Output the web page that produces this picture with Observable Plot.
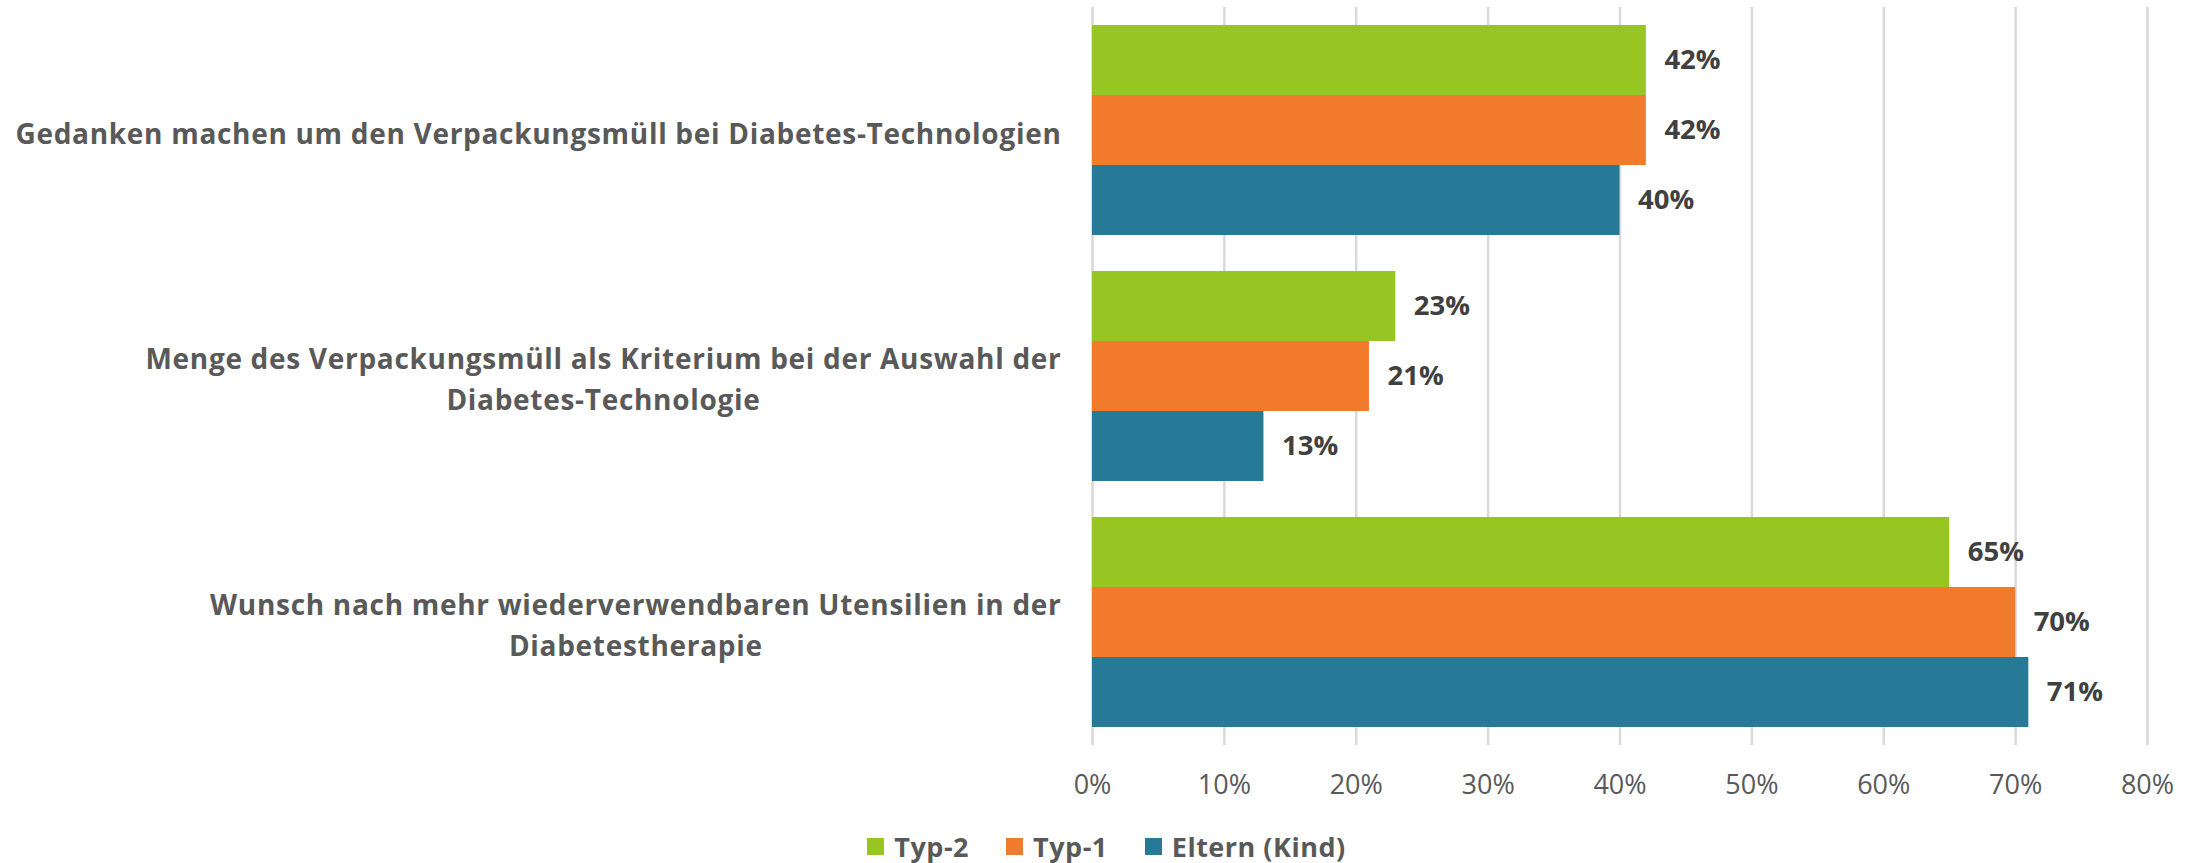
<!DOCTYPE html>
<html>
<head>
<meta charset="utf-8">
<script src="https://cdn.jsdelivr.net/npm/d3@7"></script>
<script src="https://cdn.jsdelivr.net/npm/@observablehq/plot@0.6"></script>
<style>
  html, body { margin: 0; padding: 0; background: #fff; }
  body { width: 2203px; font-family: "Open Sans", "Liberation Sans", sans-serif; }
  #chart svg { display: block; }
  g[aria-label="fy-axis tick label"] { letter-spacing: 0.7px; }
  .lg-swatches { justify-content: center; margin: 0 !important; padding-left: 47px; padding-top: 6px; min-height: 36px !important; letter-spacing: 0.5px; }
  .lg-swatch { margin-right: 37px !important; }
  .lg-swatch svg { margin-right: 10px !important; }
</style>
</head>
<body>
<div id="chart"></div>
<script>
// ---- data ----
const categories = [
  "Gedanken machen um den Verpackungsmüll bei Diabetes-Technologien",
  "Menge des Verpackungsmüll als Kriterium bei der Auswahl der\nDiabetes-Technologie",
  "Wunsch nach mehr wiederverwendbaren Utensilien in der\nDiabetestherapie"
];
const series = ["Typ-2", "Typ-1", "Eltern (Kind)"];
const colors = ["#97C623", "#F27A2B", "#267A97"];
const typ2   = [0.42, 0.23, 0.65];
const typ1   = [0.42, 0.21, 0.70];
const eltern = [0.40, 0.13, 0.71];
const xTicks = [0, 0.1, 0.2, 0.3, 0.4, 0.5, 0.6, 0.7, 0.8];

const seriesValues = [typ2, typ1, eltern];
const data = [];
categories.forEach((c, i) => {
  series.forEach((s, j) => data.push({category: c, series: s, value: seriesValues[j][i]}));
});

const FONT = "'Open Sans', 'Liberation Sans', sans-serif";
const pct = d3.format(".0%");

const plot = Plot.plot({
  width: 2203,
  height: 822,
  marginLeft: 1092,
  marginRight: 56,
  marginTop: 6,
  marginBottom: 77,
  style: {fontFamily: FONT, background: "#fff"},
  x: {domain: [0, 0.8], axis: null, label: null},
  y: {domain: series, paddingInner: 0, paddingOuter: 0.2516, axis: null, label: null},
  fy: {domain: categories, padding: 0, axis: null, label: null},
  color: {domain: series, range: colors},
  marks: [
    Plot.gridX({ticks: xTicks, stroke: "#d9d9d9", strokeOpacity: 1, strokeWidth: 2.5}),
    Plot.barX(data, {x: "value", y: "series", fy: "category", fill: "series"}),
    Plot.text(data, {
      x: "value", y: "series", fy: "category",
      text: d => pct(d.value),
      textAnchor: "start", dx: 18,
      fontSize: 27.5, fontWeight: "bold", fill: "#404040"
    }),
    Plot.axisX({
      ticks: xTicks, tickFormat: pct, tickSize: 0, tickPadding: 29,
      fontSize: 27, fill: "#595959", label: null
    }),
    Plot.axisFy({
      anchor: "left", tickSize: 0, tickPadding: 31, label: null,
      fontSize: 28, fontWeight: "bold", fill: "#595959", lineHeight: 1.45
    })
  ]
});

document.getElementById("chart").appendChild(plot);

// centre multi-line category labels relative to their widest line (right edge stays fixed)
plot.querySelectorAll('g[aria-label="fy-axis tick label"] text').forEach(t => {
  const spans = t.querySelectorAll("tspan");
  if (spans.length < 2) return;
  let w = 0;
  spans.forEach(s => { w = Math.max(w, s.getComputedTextLength()); });
  t.setAttribute("text-anchor", "middle");
  spans.forEach(s => s.setAttribute("x", -w / 2));
});

const legend = Plot.legend({
  color: {domain: series, range: colors},
  legend: "swatches",
  swatchSize: 17,
  className: "lg",
  style: {fontFamily: FONT, fontSize: "27px", fontWeight: "bold", color: "#595959"}
});
document.body.appendChild(legend);
</script>
</body>
</html>
